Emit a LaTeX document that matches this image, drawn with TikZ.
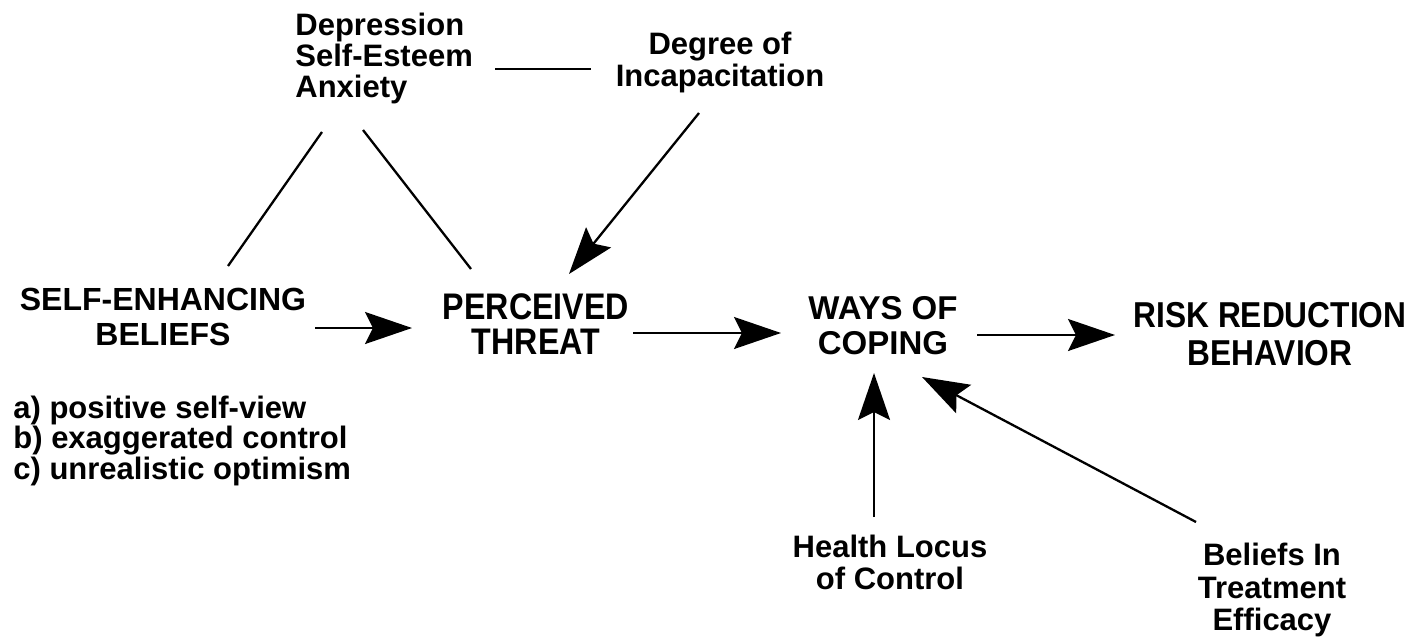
\documentclass[tikz,border=0pt]{standalone}
\usepackage{fontspec}
\setmainfont{Liberation Sans}
\newfontfamily\condfont[FakeStretch=0.87]{Liberation Sans}
\newfontfamily\condfontb[FakeStretch=0.88]{Liberation Sans}
\usetikzlibrary{arrows.meta}
\tikzset{
  txt/.style={inner sep=0pt, align=center, font=\bfseries\fontsize{15.5}{16}\selectfont},
  conn/.style={line width=1.15pt},
  arr/.style={line width=1.15pt, -{Stealth[length=23.5pt, width=16pt, inset=4pt]}}
}
\begin{document}
\begin{tikzpicture}[x=0.5pt, y=-0.5pt]
\useasboundingbox (0,0) rectangle (1424,642);

% nodes
\node[txt, align=left, anchor=west, font=\bfseries\fontsize{15.5}{15.5}\selectfont] (dep) at (295,58) {Depression\\Self-Esteem\\Anxiety};
\node[txt] (deg) at (720,62) {Degree of\\Incapacitation};
\node[txt, font=\bfseries\fontsize{16}{17.5}\selectfont] (se) at (163,317) {SELF-ENHANCING\\BELIEFS};
\node[txt, font=\condfont\bfseries\fontsize{18.5}{17.5}\selectfont] (pt) at (536,324) {PERCEIVED\\THREAT};
\node[txt, font=\bfseries\fontsize{16.5}{17.5}\selectfont] (wc) at (883,326) {WAYS OF\\COPING};
\node[txt, font=\condfontb\bfseries\fontsize{18}{19}\selectfont] (rr) at (1270,334) {RISK REDUCTION\\BEHAVIOR};
\node[txt, align=left, anchor=west, font=\bfseries\fontsize{15.5}{13.5}\selectfont] (list) at (13,441) {a) positive self-view\\b) exaggerated control\\c) unrealistic optimism};
\node[txt] (hl) at (890,562) {Health Locus\\of Control};
\node[txt, font=\bfseries\fontsize{15.5}{16.25}\selectfont] (bt) at (1272,590) {Beliefs In\\Treatment\\Efficacy};

% connector end points
\coordinate (depL) at (322,132);
\coordinate (seT)  at (228,266);
\coordinate (depR) at (363,130);
\coordinate (ptTL) at (471,269);
\coordinate (depE) at (495,69);
\coordinate (degW) at (591,69);
\coordinate (degS) at (699,113);
\coordinate (ptTR) at (569,274);
\coordinate (seE)  at (315,328);
\coordinate (ptW)  at (412,328);
\coordinate (ptE)  at (633,333);
\coordinate (wcW)  at (781,333);
\coordinate (wcE)  at (977,335);
\coordinate (rrW)  at (1115,335);
\coordinate (hlN)  at (874,517);
\coordinate (wcS)  at (874,373);
\coordinate (btN)  at (1196,522);
\coordinate (wcSE) at (922,377);

% connectors
\draw[conn] (depL) -- (seT);
\draw[conn] (depR) -- (ptTL);
\draw[conn] (depE) -- (degW);
\draw[arr] (degS) -- (ptTR);
\draw[arr] (seE) -- (ptW);
\draw[arr] (ptE) -- (wcW);
\draw[arr] (wcE) -- (rrW);
\draw[arr] (hlN) -- (wcS);
\draw[arr] (btN) -- (wcSE);
\end{tikzpicture}
\end{document}
